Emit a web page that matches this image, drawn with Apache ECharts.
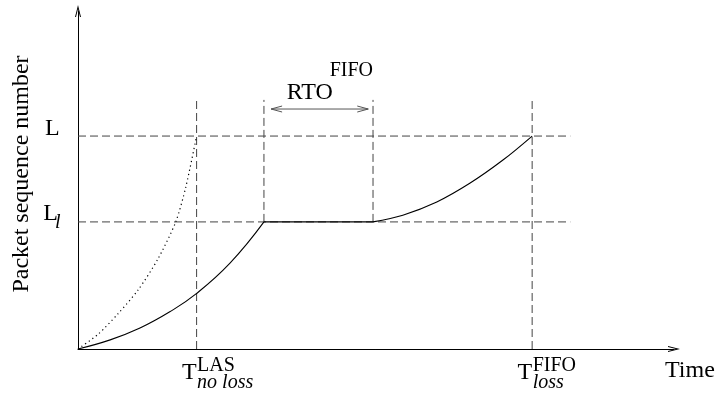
<!DOCTYPE html>
<html>
<head>
<meta charset="utf-8">
<script src="https://cdn.jsdelivr.net/npm/echarts@6/dist/echarts.min.js"></script>
<style>
  html, body { margin: 0; padding: 0; background: #ffffff; }
  #chart { width: 724px; height: 399px; }
</style>
</head>
<body>
<div id="chart"></div>
<script>
// Event instants on the time axis: T_noloss (LAS), RTO start, RTO end, T_loss (FIFO)
const eventTimes = [19.9, 31.2, 49.5, 76.2];
// Sequence-number levels: L and L_l
const seqLevels = [63.0, 37.6];
// Extent of the dashed guide lines
const guideTop = 73.7;
const guideRight = 82.6;
// RTO span arrow (FIFO), tip to tip
const rtoArrowX = [32.4, 48.7];
const rtoArrowY = 71.0;

// LAS: progress without loss (dotted)
const lasTime = [0, 3.4, 6.7, 10.1, 13.4, 16.4, 18.1, 19.9];
const lasSeq  = [0, 4.4, 10.4, 17.5, 26.6, 37.6, 48.0, 63.0];

// FIFO: ramp up to L_l, stall during the RTO, then ramp up to L
const fifoRampTime = [0, 5.4, 10.4, 15.4, 19.8, 25.5, 31.2];
const fifoRampSeq  = [0, 2.7, 6.2, 11.0, 16.3, 25.4, 37.6];
const fifoStallTime = [31.2, 49.5];
const fifoStallSeq  = [37.6, 37.6];
const fifoRecoverTime = [49.5, 54.5, 60.2, 65.8, 71.3, 76.2];
const fifoRecoverSeq  = [37.6, 39.6, 43.5, 49.1, 55.9, 63.0];

// Text labels
const levelNames = ['L', 'L'];
const levelSubs = ['', 'l'];
const tickMain = ['T', 'T'];
const tickSup = ['LAS', 'FIFO'];
const tickSub = ['no loss', 'loss'];
const rtoName = 'RTO';
const rtoSup = 'FIFO';
const xName = 'Time';
const yName = 'Packet sequence number';

const SERIF = '"Liberation Serif", "Times New Roman", serif';
const zip = (xs, ys) => xs.map((x, i) => [x, ys[i]]);

// open chevron arrow head, pointing up
const openArrow = 'path://M0,12 L3,0 L6,12 L5,12 L3,4 L1,12 Z';

const chart = echarts.init(document.getElementById('chart'), null, { renderer: 'canvas' });

const dashStyle = { color: '#444', width: 1, type: [8, 4] };
const guideLines = [];
seqLevels.forEach(v => guideLines.push([[0, v], [guideRight, v]]));
guideLines.push([[eventTimes[0], 0], [eventTimes[0], guideTop]]);
guideLines.push([[eventTimes[1], seqLevels[1]], [eventTimes[1], guideTop]]);
guideLines.push([[eventTimes[2], seqLevels[1]], [eventTimes[2], guideTop]]);
guideLines.push([[eventTimes[3], 0], [eventTimes[3], guideTop]]);

const series = guideLines.map(seg => ({
  type: 'line', data: seg, showSymbol: false, silent: true,
  lineStyle: dashStyle, z: 1
}));

const curveStyle = { color: '#000', width: 1.1 };
series.push({
  type: 'line', data: zip(lasTime, lasSeq), smooth: 0.25,
  showSymbol: false, silent: true,
  lineStyle: { color: '#000', width: 1.2, type: [1.2, 3.2] }, z: 3
});
series.push({
  type: 'line', data: zip(fifoRampTime, fifoRampSeq), smooth: 0.45,
  showSymbol: false, silent: true, lineStyle: curveStyle, z: 3
});
series.push({
  type: 'line', data: zip(fifoStallTime, fifoStallSeq),
  showSymbol: false, silent: true, lineStyle: curveStyle, z: 3
});
series.push({
  type: 'line', data: zip(fifoRecoverTime, fifoRecoverSeq), smooth: 0.35,
  showSymbol: false, silent: true, lineStyle: curveStyle, z: 3
});

const axisCommon = {
  type: 'value', min: 0, max: 100,
  axisTick: { show: false }, axisLabel: { show: false }, splitLine: { show: false },
  axisLine: {
    show: true, onZero: false,
    symbol: ['none', openArrow], symbolSize: [6, 12],
    lineStyle: { color: '#000', width: 1 }
  }
};

chart.setOption({
  animation: false,
  backgroundColor: '#ffffff',
  grid: { left: 78, right: 50, top: 11, bottom: 50 },
  xAxis: axisCommon,
  yAxis: axisCommon,
  series: series
});

// Annotations anchored to data positions
const px = (x, y) => chart.convertToPixel({ gridIndex: 0 }, [x, y]);
const origin = px(0, 0);
const axisX = origin[0];
const axisY = origin[1];
const xEnd = px(100, 0)[0];

function txt(text, x, y, size, opts) {
  opts = opts || {};
  return {
    type: 'text', x: x, y: y, silent: true, rotation: opts.rotation || 0,
    style: {
      text: text, fill: '#000',
      font: (opts.italic ? 'italic ' : '') + size + 'px ' + SERIF,
      align: opts.align || 'left', verticalAlign: 'middle'
    }
  };
}

const graphics = [];
// level labels on the y axis
seqLevels.forEach((v, i) => {
  const y = px(0, v)[1];
  if (levelSubs[i]) {
    graphics.push(txt(levelNames[i], axisX - 20, y - 8, 24, { align: 'right' }));
    graphics.push(txt(levelSubs[i], axisX - 23, y + 1, 20, { italic: true }));
  } else {
    graphics.push(txt(levelNames[i], axisX - 18.3, y - 7.5, 24, { align: 'right' }));
  }
});
// time labels
[eventTimes[0], eventTimes[3]].forEach((t, i) => {
  const x = px(t, 0)[0];
  graphics.push(txt(tickMain[i], x, axisY + 24, 24, { align: 'right' }));
  graphics.push(txt(tickSup[i], x + 0.5, axisY + 16.8, 20));
  graphics.push(txt(tickSub[i], x + 0.5, axisY + 33.5, 20, { italic: true }));
});

// RTO double-headed arrow with open heads
const a0 = px(rtoArrowX[0], rtoArrowY);
const a1 = px(rtoArrowX[1], rtoArrowY);
const arrowStroke = { stroke: '#555', lineWidth: 1, fill: null };
const headLen = 11, headHalf = 3;
graphics.push({ type: 'line', silent: true, shape: { x1: a0[0], y1: a0[1], x2: a1[0], y2: a1[1] }, style: arrowStroke });
graphics.push({ type: 'polyline', silent: true, shape: { points: [[a0[0] + headLen, a0[1] - headHalf], [a0[0], a0[1]], [a0[0] + headLen, a0[1] + headHalf]] }, style: arrowStroke });
graphics.push({ type: 'polyline', silent: true, shape: { points: [[a1[0] - headLen, a1[1] - headHalf], [a1[0], a1[1]], [a1[0] - headLen, a1[1] + headHalf]] }, style: arrowStroke });

// RTO label
graphics.push(txt(rtoName, a0[0] + 15.7, a0[1] - 16.5, 24));
graphics.push(txt(rtoSup, px(eventTimes[2], 0)[0], a0[1] - 38.7, 20, { align: 'right' }));
// axis names
graphics.push(txt(xName, xEnd - 9, axisY + 22, 24));
graphics.push(txt(yName, 21.5, 174, 24, { align: 'center', rotation: Math.PI / 2 }));

chart.setOption({ graphic: graphics });
</script>
</body>
</html>
